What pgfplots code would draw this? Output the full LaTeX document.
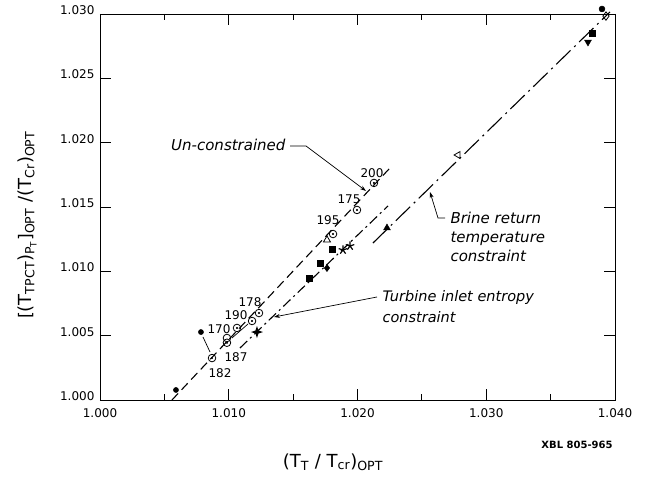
\documentclass[border=0pt]{standalone}
\usepackage{pgfplots}
\pgfplotsset{compat=1.18}
\usepackage{fontspec}
\setmainfont{DejaVu Sans}
\usetikzlibrary{arrows.meta}
\pgfdeclareplotmark{star4}{%
  \pgfpathmoveto{\pgfqpoint{0pt}{\pgfplotmarksize}}%
  \pgfpathlineto{\pgfqpoint{0.25\pgfplotmarksize}{0.25\pgfplotmarksize}}%
  \pgfpathlineto{\pgfqpoint{\pgfplotmarksize}{0pt}}%
  \pgfpathlineto{\pgfqpoint{0.25\pgfplotmarksize}{-0.25\pgfplotmarksize}}%
  \pgfpathlineto{\pgfqpoint{0pt}{-\pgfplotmarksize}}%
  \pgfpathlineto{\pgfqpoint{-0.25\pgfplotmarksize}{-0.25\pgfplotmarksize}}%
  \pgfpathlineto{\pgfqpoint{-\pgfplotmarksize}{0pt}}%
  \pgfpathlineto{\pgfqpoint{-0.25\pgfplotmarksize}{0.25\pgfplotmarksize}}%
  \pgfpathclose\pgfusepathqfill}
\begin{document}
\begin{tikzpicture}[x=1pt,y=1pt]
\useasboundingbox (-100,-92) rectangle (547,400);
\begin{axis}[
  at={(0,0)}, anchor=south west,
  scale only axis, width=515pt, height=386pt,
  xmin=1.000, xmax=1.040, ymin=1.000, ymax=1.030,
  xtick={1.000,1.010,1.020,1.030,1.040},
  xticklabels={1.000,1.010,1.020,1.030,1.040},
  minor xtick={1.005,1.015,1.025,1.035},
  ytick={1.000,1.005,1.010,1.015,1.020,1.025,1.030},
  yticklabels={1.000,1.005,1.010,1.015,1.020,1.025,1.030},
  tick align=inside, major tick length=11pt, minor tick length=6pt,
  every tick/.style={black, line width=0.8pt},
  axis line style={line width=0.9pt},
  ticklabel style={font=\fontsize{12}{14}\selectfont},
  xticklabel style={yshift=-5pt},
  yticklabel style={yshift=4pt, xshift=-2pt},
  /pgf/number format/assume math mode=true,
  clip=false,
]
% Un-constrained (dashed)
\addplot[black, line width=1.1pt, dash pattern=on 9pt off 5pt] coordinates {(1.00559,1.0000) (1.02252,1.01803)};
\addplot[only marks, mark=o, mark size=3.8pt, mark options={line width=0.8pt, fill=white}] coordinates {
 (1.00870,1.00326) (1.00986,1.00482) (1.00986,1.00445) (1.01064,1.00560) (1.01181,1.00614)
 (1.01235,1.00676) (1.01810,1.01290) (1.01996,1.01477) (1.02128,1.01687)};
\addplot[only marks, mark=*, mark size=0.9pt] coordinates {
 (1.00870,1.00326) (1.00986,1.00445) (1.01064,1.00560) (1.01181,1.00614)
 (1.01235,1.00676) (1.01810,1.01290) (1.01996,1.01477) (1.02128,1.01687)};
\addplot[only marks, mark=triangle, mark size=4pt, mark options={line width=0.8pt}] coordinates {(1.01763,1.01244)};
\addplot[only marks, mark=*, mark size=2.6pt] coordinates {(1.00590,1.00078) (1.00784,1.00528)};
% Turbine inlet entropy constraint (dash-dot)
\addplot[black, line width=1.1pt, dash pattern=on 10pt off 4pt on 2pt off 4pt] coordinates {(1.01087,1.00404) (1.02237,1.01508)};
\addplot[only marks, mark=star4, mark size=6pt] coordinates {(1.01219,1.00528)};
\addplot[only marks, mark=square*, mark size=3.2pt] coordinates {(1.01623,1.00948) (1.01709,1.01065) (1.01802,1.01174)};
\addplot[only marks, mark=diamond*, mark size=3.6pt] coordinates {(1.01763,1.01026)};
\addplot[only marks, mark=star, mark size=4.5pt, mark options={line width=1.2pt}] coordinates {(1.01887,1.01166) (1.01942,1.01197)};
% Brine return temperature constraint (long dash-dot)
\addplot[black, line width=1.1pt, dash pattern=on 20pt off 5pt on 2pt off 5pt] coordinates {(1.02120,1.01220) (1.03961,1.03016)};
\addplot[only marks, mark=triangle*, mark size=4pt] coordinates {(1.02229,1.01337)};
\addplot[only marks, mark=triangle, mark size=4pt, mark options={rotate=90, line width=0.8pt}] coordinates {(1.02781,1.01904)};
\addplot[only marks, mark=triangle*, mark size=4pt, mark options={rotate=180}] coordinates {(1.03790,1.02782)};
\addplot[only marks, mark=square*, mark size=3.2pt] coordinates {(1.03821,1.02852)};
\addplot[only marks, mark=*, mark size=3pt] coordinates {(1.03899,1.03039)};
\addplot[only marks, mark=diamond, mark size=4.2pt, mark options={line width=0.8pt, fill=white}] coordinates {(1.03930,1.02984)};
\end{axis}
% annotations (pt: x = px-100, y = 400-py)
\begin{scope}[font=\fontsize{12}{14}\selectfont]
\node at (272,227) {200};
\node at (249,201) {175};
\node at (228,180) {195};
\node at (150,98) {178};
\node at (136,85) {190};
\node at (119,71) {170};
\node at (136,43) {187};
\node at (120,27) {182};
\end{scope}
\draw[line width=0.7pt] (103,63) -- (110,48);
\draw[line width=0.7pt] (148,76) -- (132,62);
\node[anchor=east, font=\fontsize{15}{17}\selectfont\itshape] at (189,255) {Un-constrained};
\draw[line width=0.7pt, -{Stealth[length=6pt,width=4pt]}] (190,254) -- (206,254) -- (266,209);
\node[anchor=west, align=left, font=\fontsize{15}{19}\selectfont\itshape] at (347,163) {Brine return\\temperature\\constraint};
\draw[line width=0.7pt, -{Stealth[length=6pt,width=4pt]}] (345,182) -- (338,182) -- (330,208);
\node[anchor=west, align=left, font=\fontsize{14.5}{21}\selectfont\itshape] at (279,93) {Turbine inlet entropy\\constraint};
\draw[line width=0.7pt, -{Stealth[length=6pt,width=4pt]}] (277,103) -- (174,83);
\node[font=\fontsize{10}{11}\selectfont\bfseries] at (477,-45) {XBL 805-965};
\node[font=\fontsize{18}{20}\selectfont] at (233,-62) {(T\textsubscript{T} / T\textsubscript{cr})\textsubscript{OPT}};
\node[rotate=90, font=\fontsize{18}{20}\selectfont] at (-73,175) {{\LARGE[}(T\textsubscript{TPCT})\textsubscript{P\textsubscript{T}}{\LARGE]}\textsubscript{OPT} /(T\textsubscript{Cr})\textsubscript{OPT}};
\end{tikzpicture}
\end{document}
